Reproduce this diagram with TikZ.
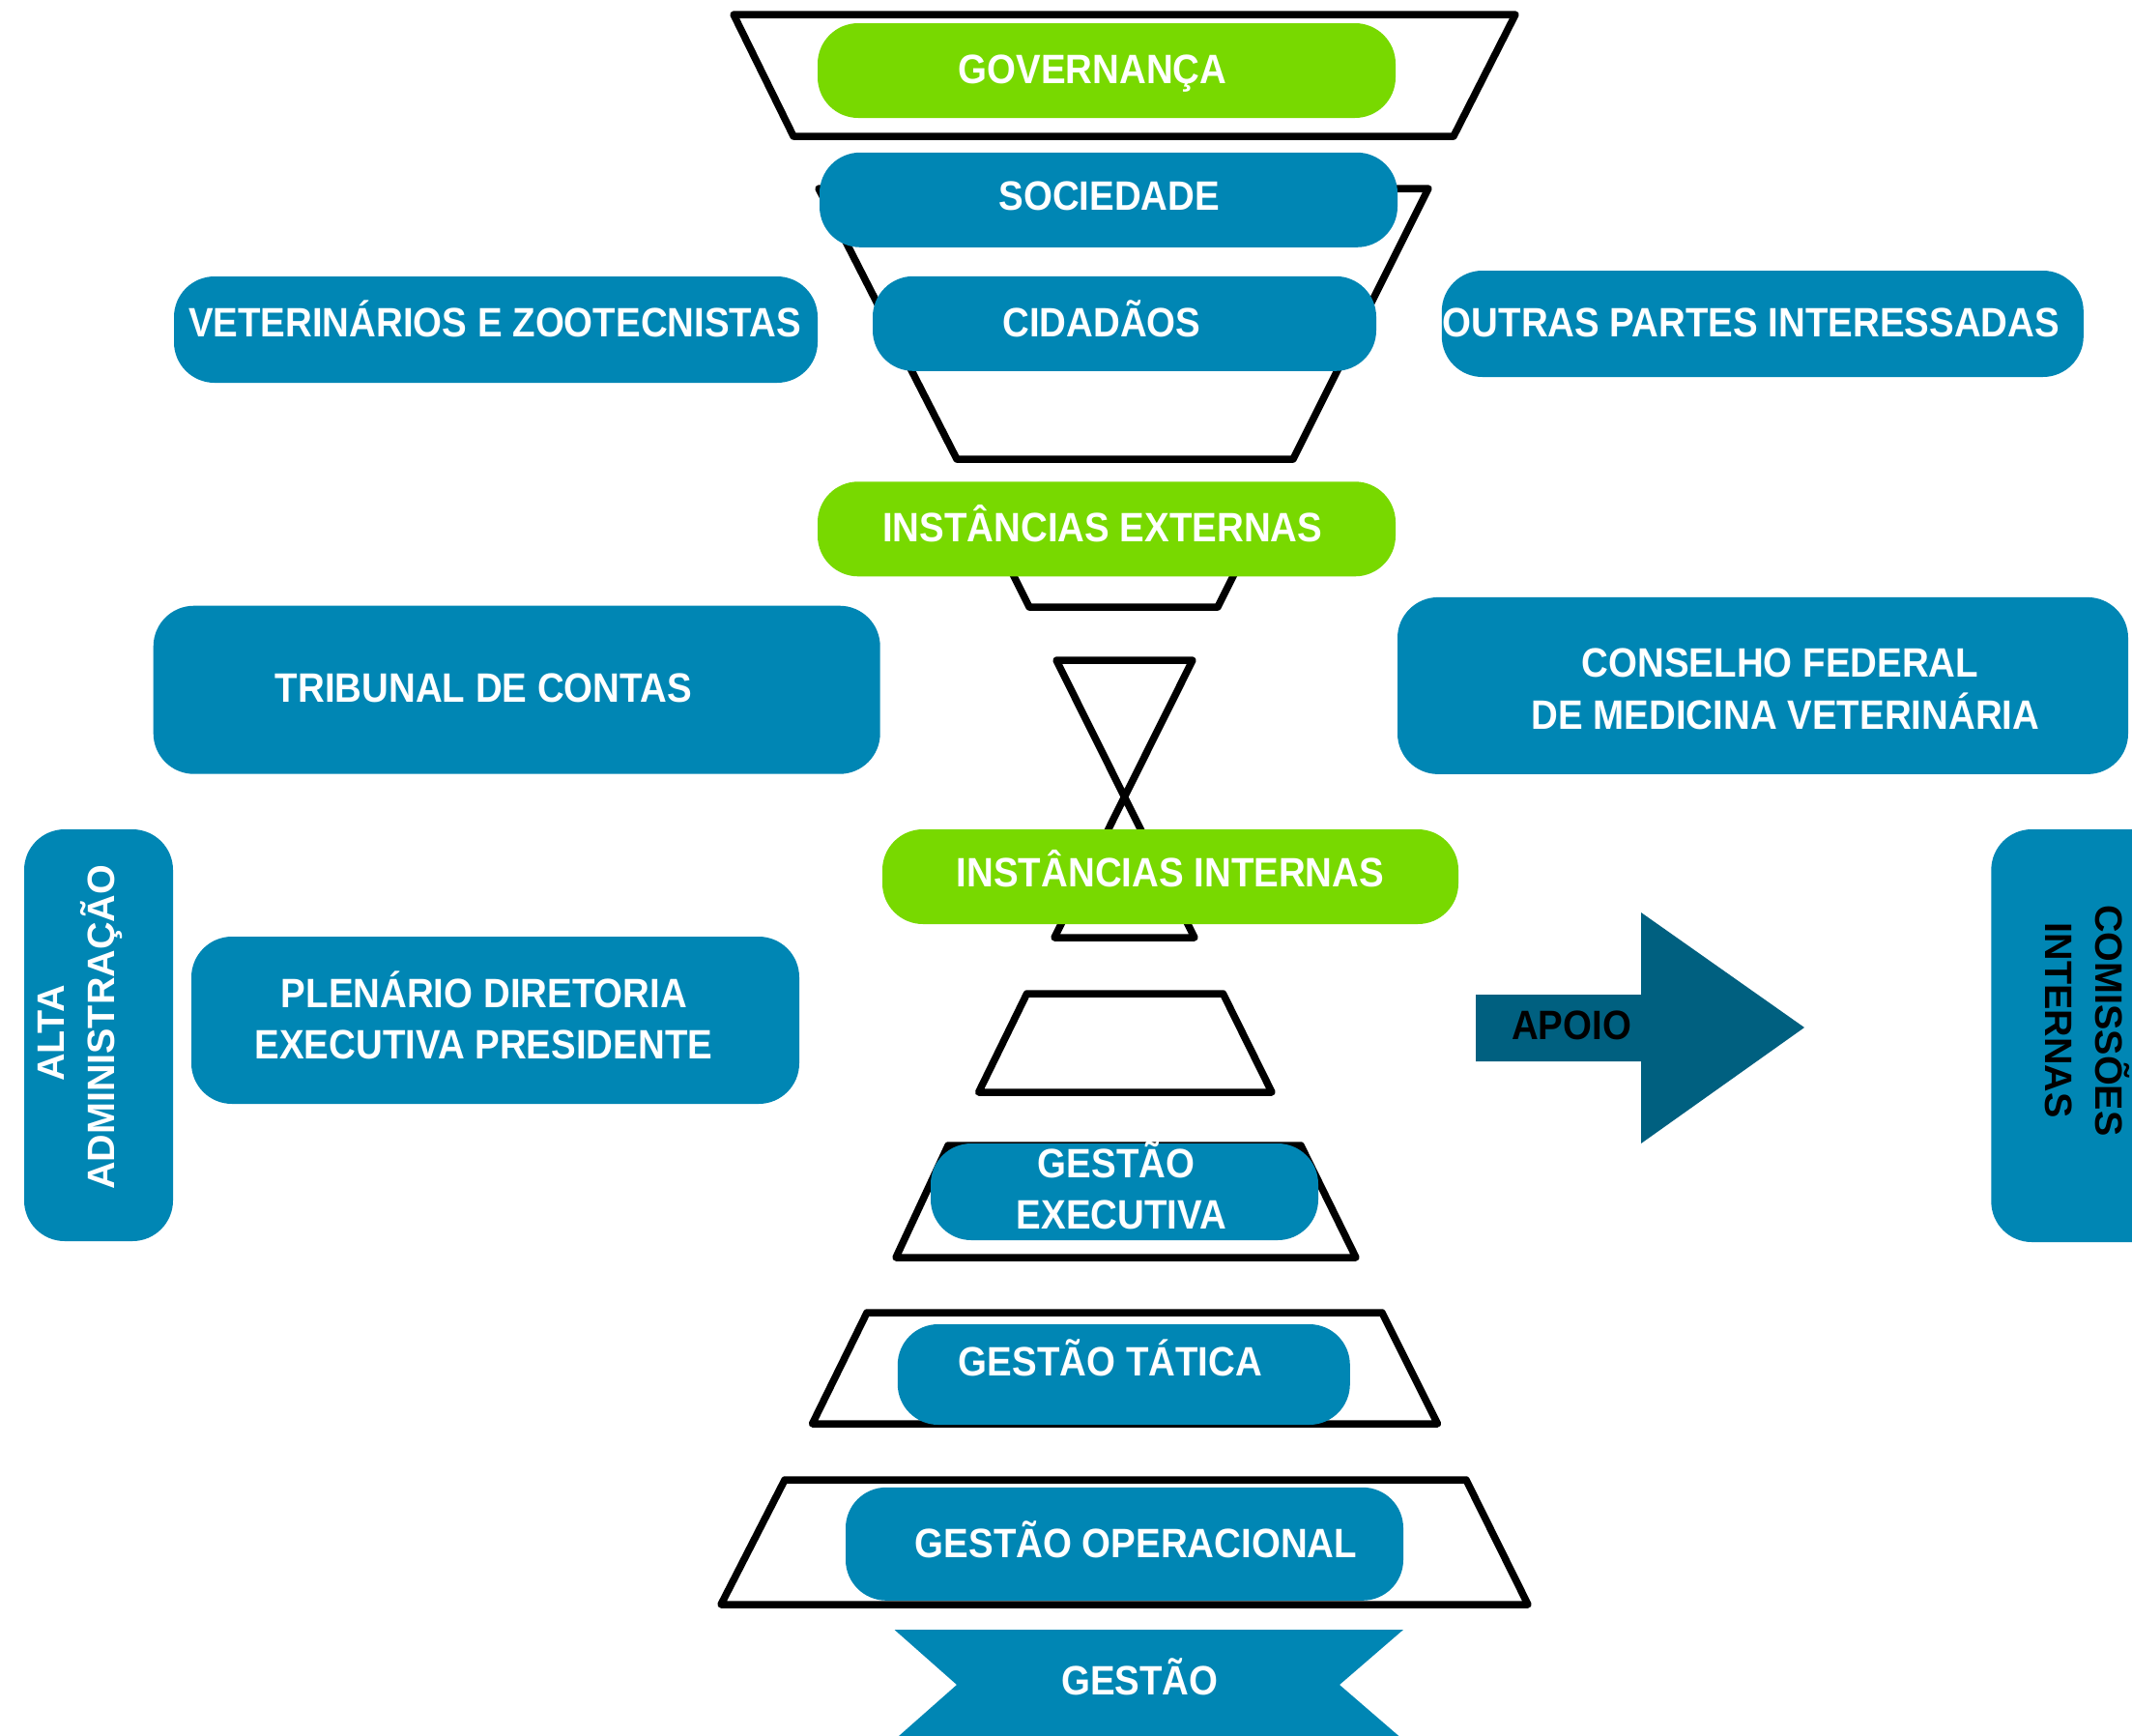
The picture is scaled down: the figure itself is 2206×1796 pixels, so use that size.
\documentclass[tikz,border=0pt]{standalone}
\usepackage{fontspec}
\newfontfamily\lblfont[FakeStretch=0.905]{Liberation Sans}
\newfontfamily\vfont{Liberation Sans}
\definecolor{cblue}{RGB}{0,134,180}
\definecolor{cgreen}{RGB}{120,217,0}
\definecolor{cdark}{RGB}{0,96,128}
\begin{document}
\begin{tikzpicture}[x=1pt,y=-1pt,
  box/.style={fill=cblue, draw=none, rounded corners=42pt, inner sep=0pt, outer sep=0pt},
  gbox/.style={box, fill=cgreen},
  lbl/.style={anchor=base, text=white, inner sep=0pt, font=\lblfont\bfseries\fontsize{42.5}{50}\selectfont},
  vlbl/.style={anchor=base, inner sep=0pt, font=\vfont\bfseries\fontsize{39.5}{48}\selectfont},
  frame/.style={draw=black, line width=7.5pt, line join=round}]
\clip (0,0) rectangle (2206,1796);
\fill[white] (0,0) rectangle (2206,1796);

% funnel frames
\draw[frame] (759,15)--(1568,15)--(1504,141)--(821,141)--cycle;
\draw[frame] (847,195)--(1478,195)--(1338,475)--(990,475)--cycle;
\draw[frame] (1031,560)--(1294,560)--(1260,628)--(1065,628)--cycle;
\draw[frame] (1093,683)--(1234,683)--(1091,970)--(1236,970)--cycle;
\draw[frame] (1062.5,1028)--(1265.5,1028)--(1316,1130)--(1012.6,1130)--cycle;
\draw[frame] (981,1185)--(1346,1185)--(1403,1301)--(927,1301)--cycle;
\draw[frame] (897,1358)--(1430,1358)--(1487.5,1473)--(840.5,1473)--cycle;
\draw[frame] (812,1531)--(1517,1531)--(1581,1660)--(746,1660)--cycle;

% boxes
\node[gbox, minimum width=598pt, minimum height=98pt] (gov) at (1145,73) {};
\node[box, minimum width=598pt, minimum height=98pt] (soc) at (1147,206.8) {};
\node[box, minimum width=521pt, minimum height=98pt] (cid) at (1163.5,334.8) {};
\node[gbox, minimum width=598pt, minimum height=98pt] (ext) at (1145,547.3) {};
\node[gbox, minimum width=596pt, minimum height=98pt] (int) at (1211,907) {};
\node[box, minimum width=401pt, minimum height=100pt] (gexe) at (1163.5,1233) {};
\node[box, minimum width=468pt, minimum height=104pt] (gtat) at (1162.8,1422) {};
\node[box, minimum width=577pt, minimum height=117pt] (gop) at (1163.5,1597.3) {};
\node[box, minimum width=666pt, minimum height=110pt] (vet) at (513,341) {};
\node[box, minimum width=664pt, minimum height=110pt] (out) at (1823.8,335) {};
\node[box, minimum width=752pt, minimum height=174pt] (tri) at (534.7,713.7) {};
\node[box, minimum width=756pt, minimum height=183pt] (con) at (1824,709.4) {};
\node[box, minimum width=629pt, minimum height=173pt] (ple) at (512.5,1055.5) {};
\node[box, minimum width=154pt, minimum height=426pt] (alta) at (102,1071) {};
\node[box, minimum width=230pt, minimum height=427pt] (com) at (2175.3,1071.5) {};

% bottom ribbon and arrow
\fill[cblue] (925.5,1686)--(1452,1686)--(1386,1743)--(1452,1800)--(925.5,1800)--(990,1743)--cycle;
\fill[cdark] (1527,1029)--(1698,1029)--(1698,944)--(1867,1063)--(1698,1183)--(1698,1098)--(1527,1098)--cycle;

% labels
\node[lbl] (tGov) at (1130.5,86.5) {GOVERNANÇA};
\node[lbl] (tSoc) at (1147.8,217) {SOCIEDADE};
\node[lbl] (tCid) at (1139.8,348) {CIDADÃOS};
\node[lbl] (tExt) at (1140.7,560) {INSTÂNCIAS EXTERNAS};
\node[lbl] (tInt) at (1211,917) {INSTÂNCIAS INTERNAS};
\node[lbl] (tVet) at (512,348) {VETERINÁRIOS E ZOOTECNISTAS};
\node[lbl] (tOut) at (1812,348) {OUTRAS PARTES INTERESSADAS};
\node[lbl] (tTri) at (500.3,726) {TRIBUNAL DE CONTAS};
\node[lbl] (tCon1) at (1842,700) {CONSELHO FEDERAL};
\node[lbl] (tCon2) at (1847.5,754) {DE MEDICINA VETERINÁRIA};
\node[lbl] (tPle1) at (501,1042) {PLENÁRIO DIRETORIA};
\node[lbl] (tPle2) at (500.5,1095) {EXECUTIVA PRESIDENTE};
\node[lbl] (tGe1) at (1155,1218) {GESTÃO};
\node[lbl] (tGe2) at (1160.5,1271.5) {EXECUTIVA};
\node[lbl] (tTat) at (1149,1423) {GESTÃO TÁTICA};
\node[lbl] (tOp) at (1175.5,1611.5) {GESTÃO OPERACIONAL};
\node[lbl] (tGes) at (1179.3,1753.6) {GESTÃO};
\node[lbl, text=black] (tApo) at (1626,1075) {APOIO};
\node[vlbl, text=white, rotate=90] (tAlta) at (66.7,1069) {ALTA};
\node[vlbl, text=white, rotate=90] (tAdm) at (118.3,1063) {ADMINISTRAÇÃO};
\node[vlbl, text=black, rotate=-90] (tCom) at (2168,1056) {COMISSÕES};
\node[vlbl, text=black, rotate=-90] (tIntr) at (2116.7,1055.5) {INTERNAS};
\end{tikzpicture}
\end{document}
